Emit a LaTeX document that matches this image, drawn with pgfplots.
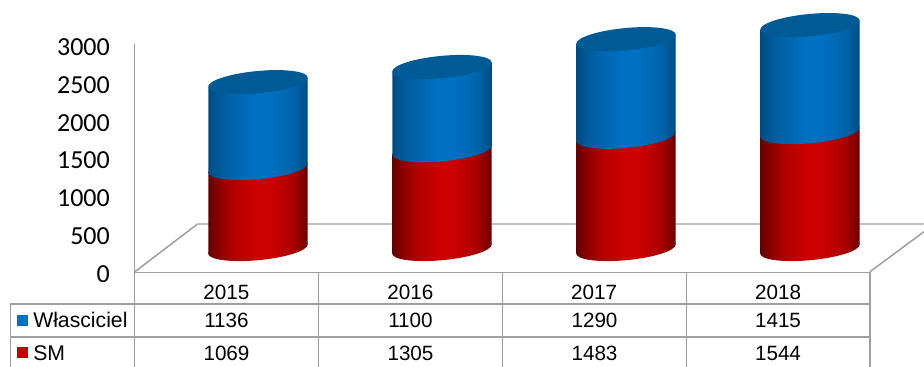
\documentclass[border=0pt]{standalone}
\usepackage{fontspec}
\setmainfont{Liberation Sans}
\newfontfamily\carlito{Carlito}
\usepackage{pgfplots}
\pgfplotsset{compat=1.18}
\definecolor{gridg}{RGB}{158,158,158}
\definecolor{keyblue}{RGB}{0,112,192}
\definecolor{keyred}{RGB}{192,0,0}
\definecolor{topblue}{RGB}{0,90,150}
\pgfdeclarehorizontalshading{redcyl}{100bp}{rgb(0bp)=(.38,0,0); rgb(25bp)=(.38,0,0); rgb(29bp)=(.52,0,0); rgb(36bp)=(.68,0,0); rgb(48bp)=(.80,0,0); rgb(56bp)=(.80,0,0); rgb(68bp)=(.66,0,0); rgb(73bp)=(.50,0,0); rgb(75bp)=(.36,0,0); rgb(100bp)=(.36,0,0)}
\pgfdeclarehorizontalshading{bluecyl}{100bp}{rgb(0bp)=(0,.29,.50); rgb(25bp)=(0,.29,.50); rgb(29bp)=(0,.34,.58); rgb(36bp)=(0,.39,.67); rgb(48bp)=(0,.44,.76); rgb(56bp)=(0,.44,.76); rgb(68bp)=(0,.39,.66); rgb(73bp)=(0,.33,.56); rgb(75bp)=(0,.28,.48); rgb(100bp)=(0,.28,.48)}
\pgfdeclareplotmark{redell}{\pgfpathellipse{\pgfpointorigin}{\pgfqpoint{37.3pt}{3.375pt}}{\pgfqpoint{0pt}{8.4pt}}\pgfshadepath{redcyl}{0}\pgfusepath{discard}}
\pgfdeclareplotmark{blueell}{\pgfpathellipse{\pgfpointorigin}{\pgfqpoint{37.3pt}{3.375pt}}{\pgfqpoint{0pt}{8.4pt}}\pgfshadepath{bluecyl}{0}\pgfusepath{discard}}
\pgfdeclareplotmark{topell}{\pgfpathellipse{\pgfpointorigin}{\pgfqpoint{37.3pt}{3.375pt}}{\pgfqpoint{0pt}{8.4pt}}\pgfsetfillcolor{topblue}\pgfusepath{fill}}
\newcommand{\cyl}[3]{%
\pgfmathsetlengthmacro{\ax}{(#1-49.75)*0.75pt}%
\begin{axis}[at={(\ax,88.5pt)},anchor=south west,scale only axis,width=74.6pt,height=170.25pt,
  xmin=0,xmax=1,ymin=0,ymax=3000,hide axis,clip=false,stack plots=y,reverse stacked plots=false]
\addplot[only marks,mark=redell] coordinates {(0.5,0)};
\addplot[ybar,bar width=74.6pt,bar shift=0pt,draw=none,shade,shading=redcyl,yslant=0.0905,yshift=-3.375pt] coordinates {(0.5,#2)};
\addplot[only marks,mark=blueell] coordinates {(0.5,0)};
\addplot[ybar,bar width=74.6pt,bar shift=0pt,draw=none,shade,shading=bluecyl,yslant=0.0905,yshift=-3.375pt] coordinates {(0.5,#3)};
\addplot[only marks,mark=topell] coordinates {(0.5,0)};
\end{axis}}
\begin{document}
\begin{tikzpicture}[x=0.75pt,y=0.75pt]
\path[use as bounding box] (0,0) rectangle (924,367);
\begin{scope}[draw=gridg,line width=1.1pt]
\draw (135,95.3) -- (197.5,143) -- (924,143);
\draw (870,95.3) -- (924,135.3);
\draw (134.5,0) -- (134.5,95);
\draw (10.5,0) -- (10.5,63) -- (870,63);
\draw (10.5,30) -- (870,30);
\draw (318.5,0) -- (318.5,95);
\draw (502.5,0) -- (502.5,95);
\draw (686.5,0) -- (686.5,95);
\draw (870,0) -- (870,95);
\end{scope}
\begin{axis}[at={(100.875pt,70.875pt)},anchor=south west,scale only axis,width=551.6pt,height=171.4pt,
  xmin=0.5,xmax=4.5,ymin=0,ymax=3020,clip=false,
  axis lines*=left,axis line style={draw=gridg,line width=1.1pt,-},
  xtick={1,2,3,4},xticklabels={2015,2016,2017,2018},
  ytick={0,500,1000,1500,2000,2500,3000},
  major tick length=0pt,
  xticklabel style={font=\fontsize{15.5pt}{18pt}\selectfont,text=black,anchor=center,yshift=-15pt},
  yticklabel style={font=\carlito\fontsize{19.5pt}{22pt}\selectfont,text=black,xshift=-15pt,yshift=-1.2pt},
  /pgf/number format/assume math mode=true,
  /pgf/number format/1000 sep={}]
\addplot[draw=none] coordinates {(1,0)};
\end{axis}
\cyl{258}{1069}{1136}
\cyl{442}{1305}{1100}
\cyl{626}{1483}{1290}
\cyl{810}{1544}{1415}
\fill[keyblue] (17,41) rectangle (28,52);
\fill[keyred] (17,9) rectangle (28,20);
\begin{scope}[every node/.style={font=\fontsize{15.5pt}{18pt}\selectfont,inner sep=0pt}]
\node[anchor=west,font=\fontsize{15.9pt}{18pt}\selectfont] at (33,47) {Własciciel};
\node[anchor=west,font=\fontsize{15.9pt}{18pt}\selectfont] at (33,14) {SM};
\node at (226.5,47) {1136}; \node at (410.5,47) {1100}; \node at (594.5,47) {1290}; \node at (778,47) {1415};
\node at (226.5,14) {1069}; \node at (410.5,14) {1305}; \node at (594.5,14) {1483}; \node at (778,14) {1544};
\end{scope}
\end{tikzpicture}
\end{document}
